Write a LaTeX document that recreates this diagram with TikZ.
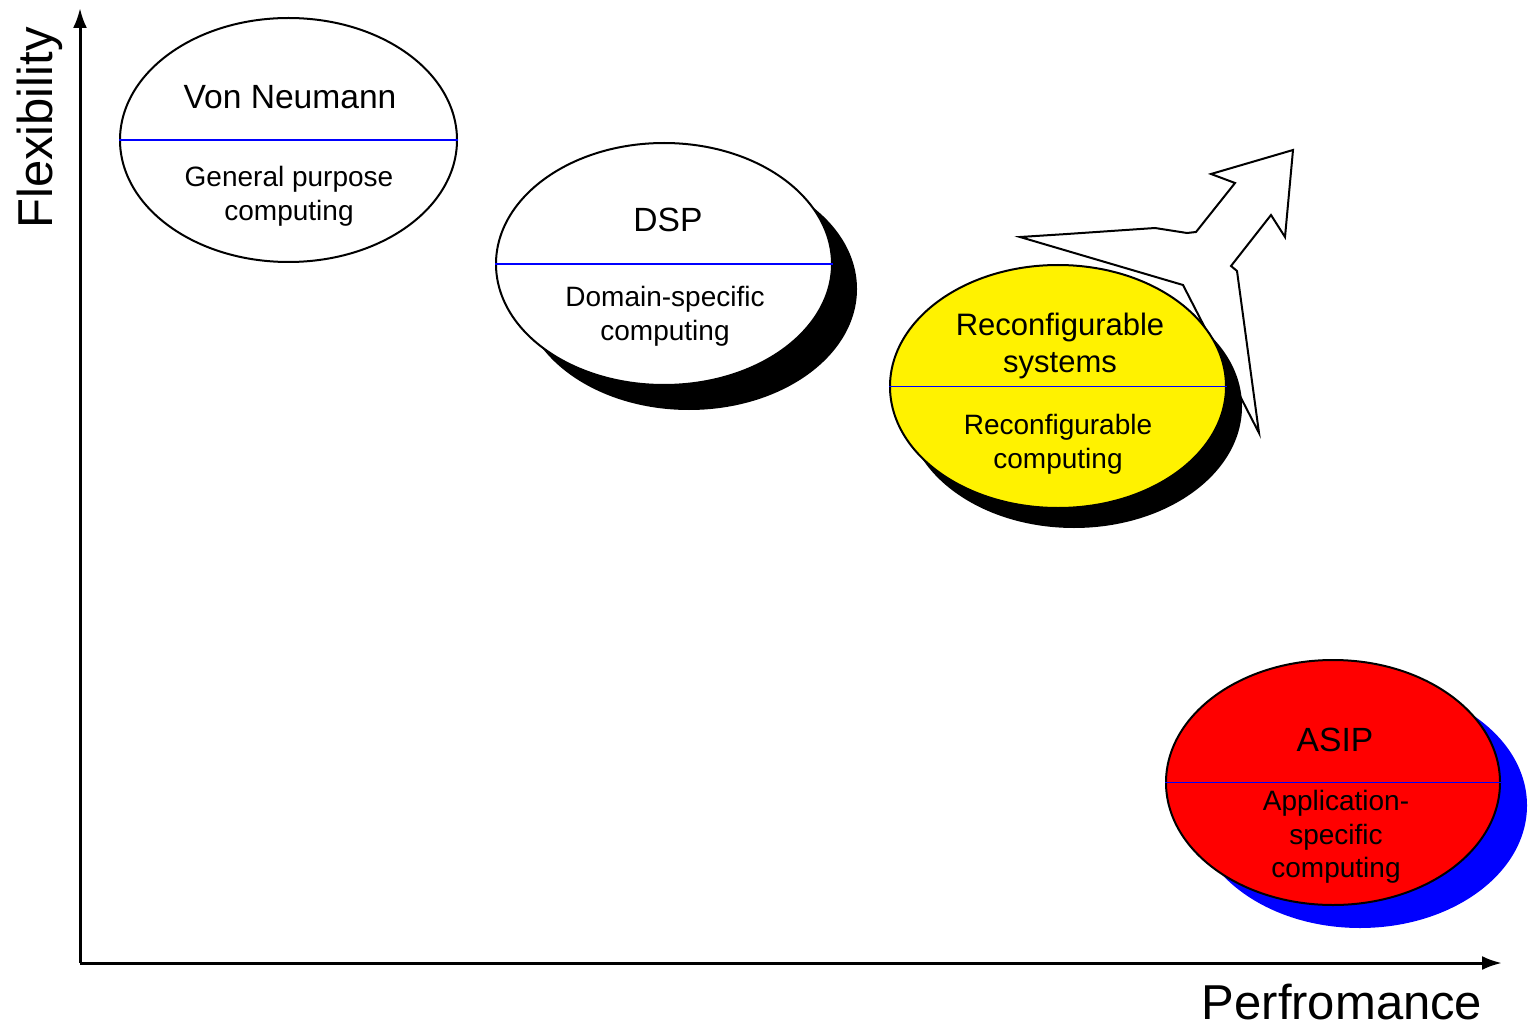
\documentclass[tikz,border=0pt]{standalone}
\usepackage{fontspec}
\setmainfont{Liberation Sans}
\usetikzlibrary{arrows.meta,shapes.geometric,shadows}
\begin{document}
\begin{tikzpicture}[x=0.5pt,y=-0.5pt,
  oval/.style={ellipse, draw=black, line width=1pt, inner sep=0pt},
  divider/.style={draw=blue, line width=0.9pt},
  title/.style={font=\fontsize{16.8}{20}\selectfont, inner sep=0pt, align=center},
  sub/.style={font=\fontsize{14}{17}\selectfont, inner sep=0pt, align=center},
  axis/.style={line width=1.5pt, -{Latex[length=10pt,width=7pt]}},
  axlabel/.style={font=\fontsize{24.5}{28}\selectfont, inner sep=0pt},
  bigarrow/.style={draw=black, fill=white, line width=1pt, line join=miter}]
\useasboundingbox (0,0) rectangle (1531,1027);

% axes
\coordinate (origin) at (80,963);
\coordinate (ytop) at (80,8);
\coordinate (xend) at (1502,963);
\draw[axis] (origin) -- (ytop);
\draw[axis] (origin) -- (xend);
\node[axlabel, rotate=90] (flex) at (40,128) {Flexibility};
\node[axlabel] (perf) at (1342,1002) {Perfromance};

% hollow arrow (behind reconfigurable ellipse)
\draw[bigarrow] (1020,237) -- (1067,234) -- (1155,228) -- (1187,233) -- (1196,232)
  -- (1235,183) -- (1211,174) -- (1293,150) -- (1285,237) -- (1271,215)
  -- (1231,266) -- (1237,271) -- (1259,433) -- (1183,285) -- cycle;

% Von Neumann
\node[oval, fill=white, minimum width=168.5pt, minimum height=122pt] (vn) at (288.5,140) {};
\draw[divider] (vn.west) -- (vn.east);
\node[title] (vnt) at (290,97) {Von Neumann};
\node[sub] (vns) at (289,196) {General purpose\\computing};

% DSP
\node[oval, fill=white, minimum width=168pt, minimum height=121pt,
  drop shadow={shadow xshift=12.5pt, shadow yshift=-12.5pt, fill=black, opacity=1}] (dsp) at (664,264) {};
\draw[divider] (dsp.west) -- (dsp.east);
\node[title] (dspt) at (668,220) {DSP};
\node[sub] (dsps) at (665,316) {Domain-specific\\computing};

% Reconfigurable
\node[oval, fill=yellow, minimum width=168pt, minimum height=121.5pt,
  drop shadow={shadow xshift=8pt, shadow yshift=-10pt, fill=black, opacity=1}] (rc) at (1058,386.5) {};
\draw[divider] (rc.west) -- (rc.east);
\node[title, font=\fontsize{15.5}{18.5}\selectfont] (rct) at (1060,346) {Reconfigurable\\systems};
\node[sub] (rcs) at (1058,444) {Reconfigurable\\computing};

% ASIP
\node[oval, fill=red, minimum width=167pt, minimum height=122.5pt,
  drop shadow={shadow xshift=13.5pt, shadow yshift=-11.5pt, fill=blue, opacity=1}] (asip) at (1333,782.5) {};
\draw[divider] (asip.west) -- (asip.east);
\node[title] (asipt) at (1335,740) {ASIP};
\node[sub, font=\fontsize{14}{16.75}\selectfont] (asips) at (1336,837) {Application-\\specific\\computing};
\end{tikzpicture}
\end{document}
